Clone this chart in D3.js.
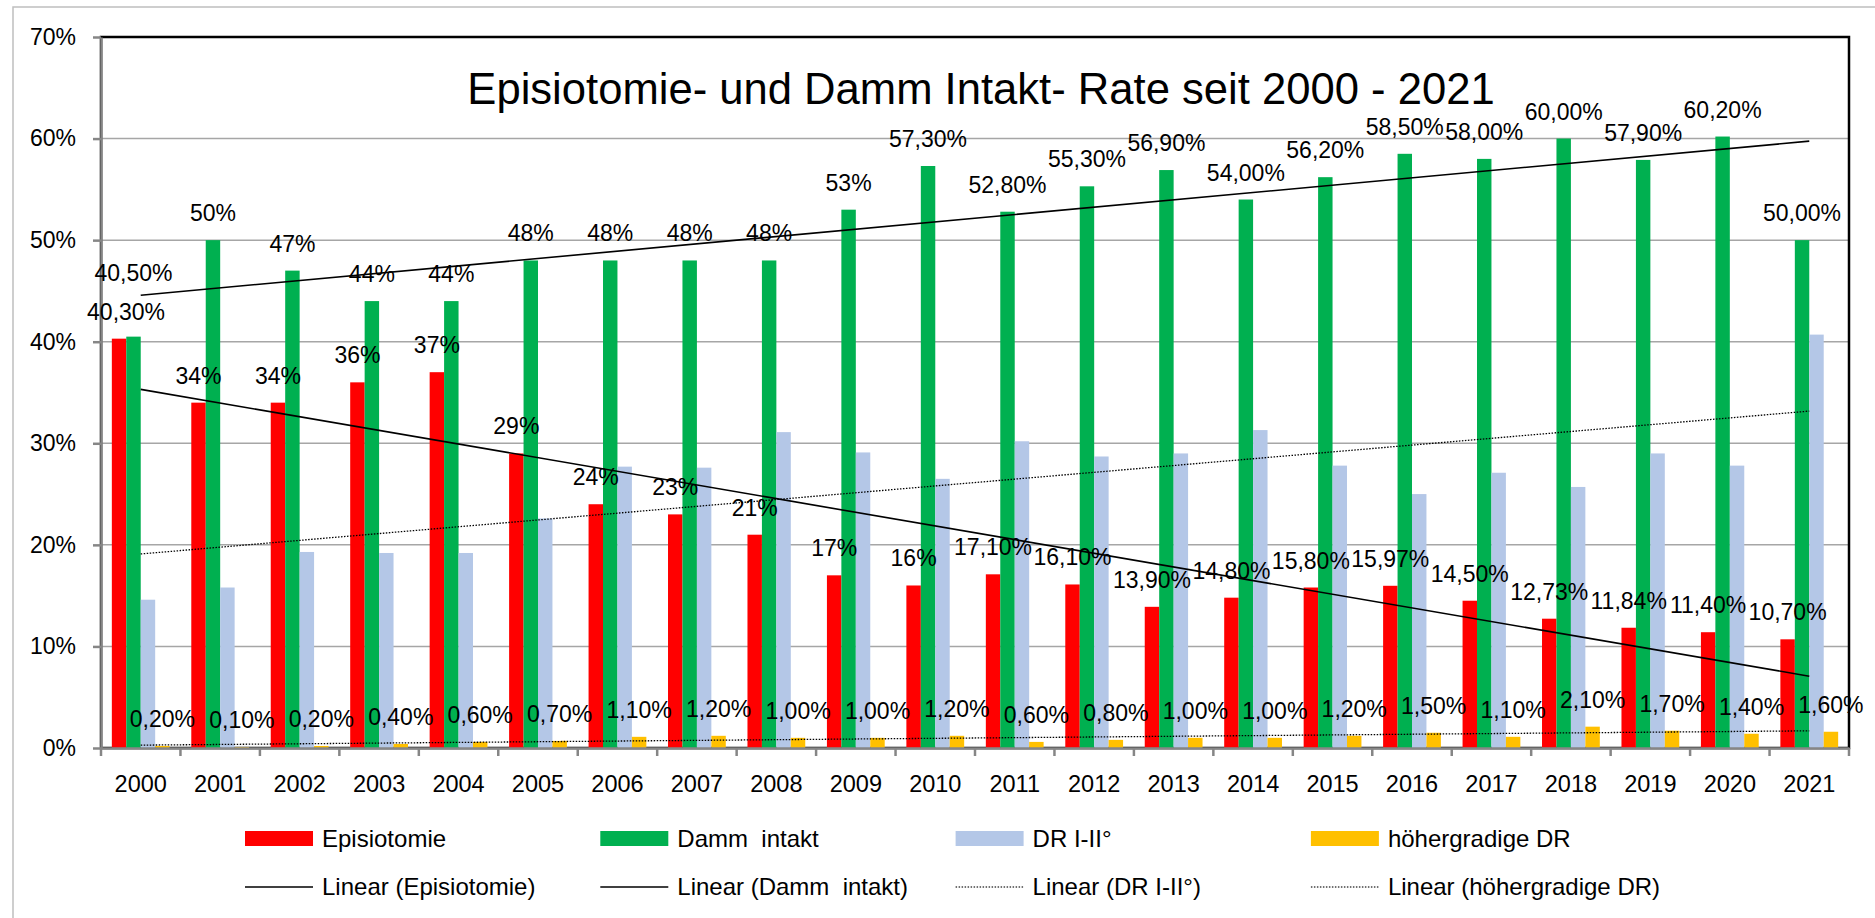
<!DOCTYPE html>
<html lang="de">
<head>
<meta charset="UTF-8">
<title>Episiotomie- und Damm Intakt- Rate seit 2000 - 2021</title>
<script src="https://d3js.org/d3.v7.min.js"></script>
<style>
	body { margin: 0; background: #fff; }
	svg text { font-family: "Liberation Sans", Arial, sans-serif; fill: #000; }
	.grid line { stroke: #a6a6a6; stroke-width: 1.5px; }
	.axis path, .axis line { stroke: #868686; stroke-width: 2.5px; }
	.trend { fill: none; stroke: #000; }
</style>
</head>
<body>
<svg id="chart" width="1875" height="918"></svg>
<script>
// values (percent)
const years = ["2000", "2001", "2002", "2003", "2004", "2005", "2006", "2007", "2008", "2009", "2010",
	"2011", "2012", "2013", "2014", "2015", "2016", "2017", "2018", "2019", "2020", "2021"];
const episiotomie = [40.3, 34, 34, 36, 37, 29, 24, 23, 21, 17, 16, 17.1, 16.1, 13.9, 14.8, 15.8, 15.97, 14.5, 12.73, 11.84, 11.4, 10.7];
const dammIntakt = [40.5, 50, 47, 44, 44, 48, 48, 48, 48, 53, 57.3, 52.8, 55.3, 56.9, 54.0, 56.2, 58.5, 58.0, 60.0, 57.9, 60.2, 50.0];
const drI_II = [14.6, 15.8, 19.3, 19.2, 19.2, 22.6, 27.7, 27.6, 31.1, 29.1, 26.5, 30.2, 28.7, 29.0, 31.3, 27.8, 25.0, 27.1, 25.7, 29.0, 27.8, 40.7];
const hoehergradig = [0.2, 0.1, 0.2, 0.4, 0.6, 0.7, 1.1, 1.2, 1.0, 1.0, 1.2, 0.6, 0.8, 1.0, 1.0, 1.2, 1.5, 1.1, 2.1, 1.7, 1.4, 1.6];
// decimals shown in the data labels
const episiotomieDecimals = [2, 0, 0, 0, 0, 0, 0, 0, 0, 0, 0, 2, 2, 2, 2, 2, 2, 2, 2, 2, 2, 2];
const dammDecimals = [2, 0, 0, 0, 0, 0, 0, 0, 0, 0, 2, 2, 2, 2, 2, 2, 2, 2, 2, 2, 2, 2];
const hoehergradigDecimals = [2, 2, 2, 2, 2, 2, 2, 2, 2, 2, 2, 2, 2, 2, 2, 2, 2, 2, 2, 2, 2, 2];
const yTicks = [0, 10, 20, 30, 40, 50, 60, 70];
const seriesNames = ["Episiotomie", "Damm  intakt", "DR I-II°", "höhergradige DR"];
const seriesColors = ["#ff0000", "#00b050", "#b4c7e7", "#ffc000"];

const plot = {left: 101, right: 1849, top: 37, bottom: 748};

const series = [
	{name: seriesNames[0], values: episiotomie, color: seriesColors[0], decimals: episiotomieDecimals, dotted: false},
	{name: seriesNames[1], values: dammIntakt, color: seriesColors[1], decimals: dammDecimals, dotted: false},
	{name: seriesNames[2], values: drI_II, color: seriesColors[2], decimals: null, dotted: true},
	{name: seriesNames[3], values: hoehergradig, color: seriesColors[3], decimals: hoehergradigDecimals, dotted: true}
];

const de = d3.formatLocale({decimal: ",", thousands: ".", grouping: [3], currency: ["", " €"]});

const svg = d3.select("#chart");
svg.append("rect").attr("width", 1875).attr("height", 918).attr("fill", "#fff");
// outer chart frame (runs off the page on the right and bottom)
svg.append("rect")
	.attr("x", 13).attr("y", 7).attr("width", 1900).attr("height", 950)
	.attr("fill", "none").attr("stroke", "#bfbfbf").attr("stroke-width", 1.5);

const x = d3.scaleBand().domain(years).range([plot.left, plot.right]);
const barW = x.bandwidth() / 5.5;
const xs = d3.scaleBand().domain(seriesNames).range([0.75 * barW, 4.75 * barW]);
const y = d3.scaleLinear().domain([0, 70]).range([plot.bottom, plot.top]);

// gridlines
svg.append("g").attr("class", "grid")
	.selectAll("line").data(yTicks.filter(t => t > 0 && t < 70)).enter().append("line")
	.attr("x1", plot.left).attr("x2", plot.right)
	.attr("y1", d => y(d)).attr("y2", d => y(d));

// plot area border (top and right show black)
svg.append("rect")
	.attr("x", plot.left).attr("y", plot.top)
	.attr("width", plot.right - plot.left).attr("height", plot.bottom - plot.top)
	.attr("fill", "none").attr("stroke", "#000").attr("stroke-width", 2.5);

// bars
series.forEach(s => {
	svg.append("g").selectAll("rect").data(s.values).enter().append("rect")
		.attr("x", (d, i) => x(years[i]) + xs(s.name))
		.attr("width", xs.bandwidth())
		.attr("y", d => y(d))
		.attr("height", d => y(0) - y(d))
		.attr("fill", s.color);
});

// y axis
const yAxis = svg.append("g").attr("class", "axis")
	.attr("transform", `translate(${plot.left},0)`)
	.call(d3.axisLeft(y).tickValues(yTicks).tickFormat(d => d + "%").tickSizeInner(8).tickSizeOuter(0).tickPadding(17));
yAxis.selectAll("text").attr("font-size", 23).style("font-family", "Liberation Sans, Arial, sans-serif");

// x axis: labels centred, tick marks on the category boundaries
const xAxis = svg.append("g").attr("class", "axis")
	.attr("transform", `translate(0,${plot.bottom})`)
	.call(d3.axisBottom(x).tickSize(0).tickPadding(27));
xAxis.selectAll("text").attr("font-size", 23.5).style("font-family", "Liberation Sans, Arial, sans-serif");
xAxis.selectAll(".boundary").data(years.concat(["end"])).enter().append("line")
	.attr("class", "boundary")
	.attr("x1", d => d === "end" ? plot.right : x(d))
	.attr("x2", d => d === "end" ? plot.right : x(d))
	.attr("y1", 0).attr("y2", 8);

// linear trendlines (least squares over category index, like Excel)
function linearFit(values) {
	const n = values.length;
	const mx = d3.mean(values, (d, i) => i);
	const my = d3.mean(values);
	const sxy = d3.sum(values, (d, i) => (i - mx) * (d - my));
	const sxx = d3.sum(values, (d, i) => (i - mx) * (i - mx));
	const slope = sxy / sxx;
	return i => my + slope * (i - mx);
}
series.forEach(s => {
	const f = linearFit(s.values);
	const last = years.length - 1;
	svg.append("line").attr("class", "trend")
		.attr("x1", x(years[0]) + x.bandwidth() / 2).attr("y1", y(f(0)))
		.attr("x2", x(years[last]) + x.bandwidth() / 2).attr("y2", y(f(last)))
		.attr("stroke-width", s.dotted ? 1.3 : 1.6)
		.attr("stroke-dasharray", s.dotted ? "1.5,1.5" : null);
});

// data labels; two labels of 2000 were moved by hand in the original
const labelNudge = {"Episiotomie-0": [7, 0], "Damm  intakt-0": [0, -37]};
series.filter(s => s.decimals).forEach(s => {
	svg.append("g").selectAll("text").data(s.values).enter().append("text")
		.attr("x", (d, i) => x(years[i]) + xs(s.name) + xs.bandwidth() / 2 + (labelNudge[s.name + "-" + i] || [0, 0])[0])
		.attr("y", (d, i) => y(d) - 19 + (labelNudge[s.name + "-" + i] || [0, 0])[1])
		.attr("text-anchor", "middle")
		.attr("font-size", 23)
		.text((d, i) => de.format(`.${s.decimals[i]}f`)(d) + "%");
});

// title
svg.append("text")
	.attr("x", 981).attr("y", 104)
	.attr("text-anchor", "middle")
	.attr("font-size", 43.6)
	.text("Episiotomie- und Damm Intakt- Rate seit 2000 - 2021");

// legend: row one swatches, row two trendline samples
const legendX = i => 245 + i * 355.3;
const legend = svg.append("g").attr("font-size", 24);
legend.selectAll(".sw").data(series).enter().append("rect")
	.attr("x", (d, i) => legendX(i)).attr("y", 831)
	.attr("width", 68).attr("height", 15)
	.attr("fill", d => d.color);
legend.selectAll(".lt").data(series).enter().append("text")
	.attr("x", (d, i) => legendX(i) + 77).attr("y", 847)
	.text(d => d.name).style("white-space", "pre");
legend.selectAll(".ln").data(series).enter().append("line")
	.attr("x1", (d, i) => legendX(i)).attr("x2", (d, i) => legendX(i) + 68)
	.attr("y1", 887).attr("y2", 887)
	.attr("stroke", d => d.dotted ? "#444" : "#000")
	.attr("stroke-width", d => d.dotted ? 1.3 : 1.6)
	.attr("stroke-dasharray", d => d.dotted ? "1.5,1.5" : null);
legend.selectAll(".lt2").data(series).enter().append("text")
	.attr("x", (d, i) => legendX(i) + 77).attr("y", 895)
	.text(d => "Linear (" + d.name + ")").style("white-space", "pre");
</script>
</body>
</html>
